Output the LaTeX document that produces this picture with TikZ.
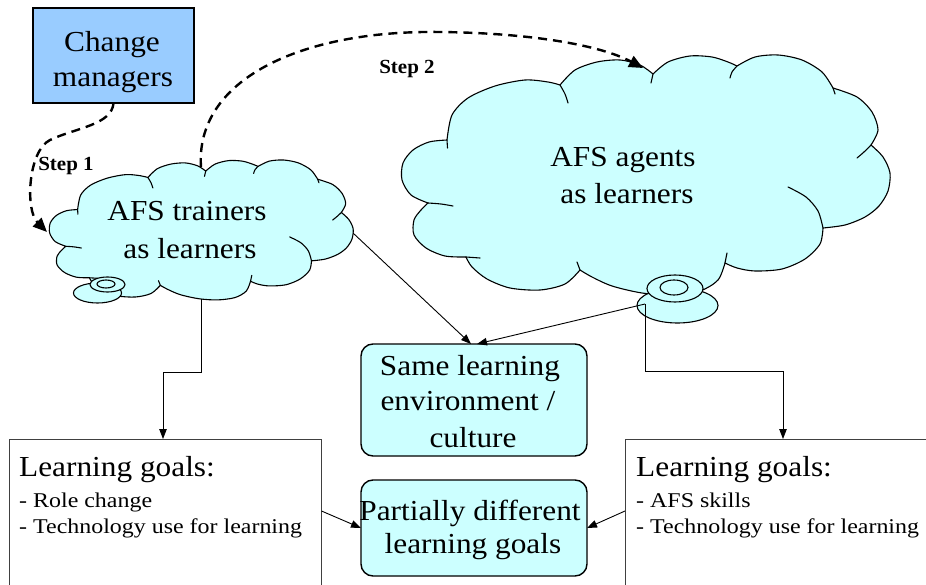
\documentclass[tikz,border=0pt]{standalone}
\usepackage{fontspec}
\setmainfont{Liberation Serif}
\newfontfamily\labelfont[FakeStretch=1.08]{Liberation Serif}
\newfontfamily\notefont[FakeStretch=1.14]{Liberation Serif}
\newfontfamily\stepfont[FakeStretch=1.05]{Liberation Serif}
\usetikzlibrary{arrows.meta}

\definecolor{skyfill}{HTML}{99CCFF}
\definecolor{pale}{HTML}{CCFFFF}

\tikzset{
  bigtext/.style={font=\labelfont\fontsize{29}{35}\selectfont, inner sep=0pt, anchor=base},
  bigleft/.style={bigtext, anchor=base west},
  notetext/.style={font=\notefont\fontsize{21}{25}\selectfont, inner sep=0pt, anchor=base west},
  steplabel/.style={font=\stepfont\bfseries\fontsize{20}{24}\selectfont, inner sep=0pt, anchor=base},
  cloudline/.style={line width=1.1pt, line join=round, line cap=round},
  managerbox/.style={draw, line width=1.8pt, fill=skyfill, inner sep=0pt, outer sep=0pt,
    minimum width=161pt, minimum height=95pt},
  paleround/.style={draw, line width=1.4pt, fill=pale, rounded corners=12pt, inner sep=0pt,
    outer sep=0pt, minimum width=226pt},
  goalbox/.style={draw=black!75, line width=1pt, inner sep=0pt, outer sep=0pt,
    minimum width=312pt, minimum height=151pt},
  conn/.style={line width=0.9pt, -{Triangle[length=10pt,width=7.5pt]}},
  stepline/.style={line width=2.4pt, dash pattern=on 9pt off 6pt,
    -{Triangle[length=14pt,width=12pt]}},
  bubble/.style={draw, fill=pale, line width=1.1pt},
  % thought cloud outline with its inner creases, origin at its top-left corner
  cloudpic/.pic={
    \begin{scope}[shift={(-401,-55)}]
      \filldraw[cloudline, fill=pale] (447,140)
        -- plot[smooth] coordinates {(447,140) (452,115) (468,98) (495,86) (525,80) (548,82) (560,85)}
        -- plot[smooth] coordinates {(560,85) (575,70) (597,62) (620,60) (640,65) (653,74)}
        -- plot[smooth] coordinates {(653,74) (668,62) (690,56) (712,57) (728,62) (737,66)}
        -- plot[smooth] coordinates {(737,66) (755,57) (778,55) (802,60) (822,72) (833,88)}
        -- plot[smooth] coordinates {(833,88) (857,97) (872,112) (878,130) (871,145)}
        -- plot[smooth] coordinates {(871,145) (883,157) (890,173) (888,191) (879,206) (865,217) (845,225) (823,228)}
        -- plot[smooth] coordinates {(823,228) (820,244) (805,259) (782,269) (755,271) (737,268) (725,263)}
        -- plot[smooth] coordinates {(725,263) (718,280) (700,291) (672,295) (642,293) (612,286) (592,277) (580,270)}
        -- plot[smooth] coordinates {(580,270) (565,284) (540,290) (510,288) (487,279) (472,267) (466,257)}
        -- plot[smooth] coordinates {(466,257) (445,256) (426,248) (414,235) (414,220) (421,210) (428,203)}
        -- plot[smooth] coordinates {(428,203) (411,195) (402,180) (403,163) (413,150) (429,142) (447,140)}
        -- cycle;
      \draw[cloudline] (447,140) -- (447.5,148);
      \draw[cloudline] plot[smooth] coordinates {(560,85) (565,94) (568,103)};
      \draw[cloudline] (653,74) -- (651,83);
      \draw[cloudline] plot[smooth] coordinates {(737,66) (732,72) (730,78)};
      \draw[cloudline] (833,88) -- (835,94);
      \draw[cloudline] plot[smooth] coordinates {(871,145) (864,152) (857,158)};
      \draw[cloudline] plot[smooth] coordinates {(788,187) (806,197) (818,211) (823,228)};
      \draw[cloudline] (725,263) -- (727,253);
      \draw[cloudline] (580,270) -- (577,262);
      \draw[cloudline] plot[smooth] coordinates {(466,257) (473,257.5) (480,258)};
      \draw[cloudline] plot[smooth] coordinates {(428,203) (441,204) (453,206)};
    \end{scope}
  }
}

\begin{document}
\begin{tikzpicture}[x=1pt, y=-1pt]
  \useasboundingbox (0,0) rectangle (926,585);
  \clip (0,0) rectangle (926,585);

  % clouds
  \path (49,160) pic[xscale=0.622, yscale=0.583] {cloudpic};
  \path (401,55) pic {cloudpic};

  % thought bubbles under the clouds
  \filldraw[bubble] (97.5,293) ellipse [x radius=24pt, y radius=10pt];
  \filldraw[bubble] (107.5,284.5) ellipse [x radius=17.5pt, y radius=7.5pt];
  \filldraw[bubble] (106,284) ellipse [x radius=9pt, y radius=4pt];
  \filldraw[bubble] (677.5,305.5) ellipse [x radius=40.5pt, y radius=17.5pt];
  \filldraw[bubble] (675,288.5) ellipse [x radius=28pt, y radius=13.5pt];
  \filldraw[bubble] (674,287.5) ellipse [x radius=14pt, y radius=7.5pt];

  % boxes
  \node[managerbox] (cm) at (113.5,55.5) {};
  \node[paleround, minimum height=112pt] (same) at (474,400) {};
  \node[paleround, minimum height=96pt] (part) at (474,528) {};
  \node[goalbox] (lgL) at (165.5,514.5) {};
  \node[goalbox] (lgR) at (781,514.5) {};

  % texts
  \node[bigtext] (cmA) at (112,52) {Change};
  \node[bigtext] (cmB) at (113,87) {managers};
  \node[bigtext] (trA) at (187,221) {AFS trainers};
  \node[bigtext] (trB) at (190,259) {as learners};
  \node[bigtext] (agA) at (623,167) {AFS agents};
  \node[bigtext] (agB) at (627,204) {as learners};
  \node[bigtext] (sameA) at (470,375) {Same learning};
  \node[bigtext] (sameB) at (468,410) {environment /};
  \node[bigtext] (sameC) at (473,447) {culture};
  \node[bigtext] (partA) at (470,520) {Partially different};
  \node[bigtext] (partB) at (473,553) {learning goals};
  \node[bigleft] (lgLa) at (19,476) {Learning goals:};
  \node[notetext] (lgLb) at (19,507) {- Role change};
  \node[notetext] (lgLc) at (19,533) {- Technology use for learning};
  \node[bigleft] (lgRa) at (636,476) {Learning goals:};
  \node[notetext] (lgRb) at (636,507) {- AFS skills};
  \node[notetext] (lgRc) at (636,533) {- Technology use for learning};
  \node[steplabel] (stepA) at (66,170.5) {Step 1};
  \node[steplabel] (stepB) at (407,74) {Step 2};

  % connector ends on the clouds
  \coordinate (trBottom) at (201,299);
  \coordinate (trRight) at (353,233);
  \coordinate (trTop) at (201,167);
  \coordinate (trLeft) at (47,232);
  \coordinate (agBubble) at (645,304);
  \coordinate (agTop) at (643,68);
  \coordinate (elbowL) at (163,372);
  \coordinate (elbowR) at (783,371);
  \coordinate (stepAmid) at (50,140);
  \coordinate (stepBmid) at (440,32);

  % solid connectors
  \draw[conn] (trBottom) |- (elbowL) -- (elbowL |- lgL.north);
  \draw[conn] (agBubble) |- (elbowR) -- (elbowR |- lgR.north);
  \draw[conn] (trRight) -- ([xshift=-3pt]same.north);
  \draw[conn] (agBubble) -- ([xshift=3pt]same.north);
  \draw[conn] ([yshift=3.5pt]lgL.east) -- (part.west);
  \draw[conn] ([yshift=3.5pt]lgR.west) -- (part.east);

  % dashed steps
  \draw[stepline] (cm.south) .. controls (112,125) and (75,128) .. (stepAmid)
    .. controls (28,151) and (25,210) .. (trLeft);
  \draw[stepline] (trTop) .. controls (195,80) and (300,30) .. (stepBmid)
    .. controls (530,33) and (600,45) .. (agTop);
\end{tikzpicture}
\end{document}
